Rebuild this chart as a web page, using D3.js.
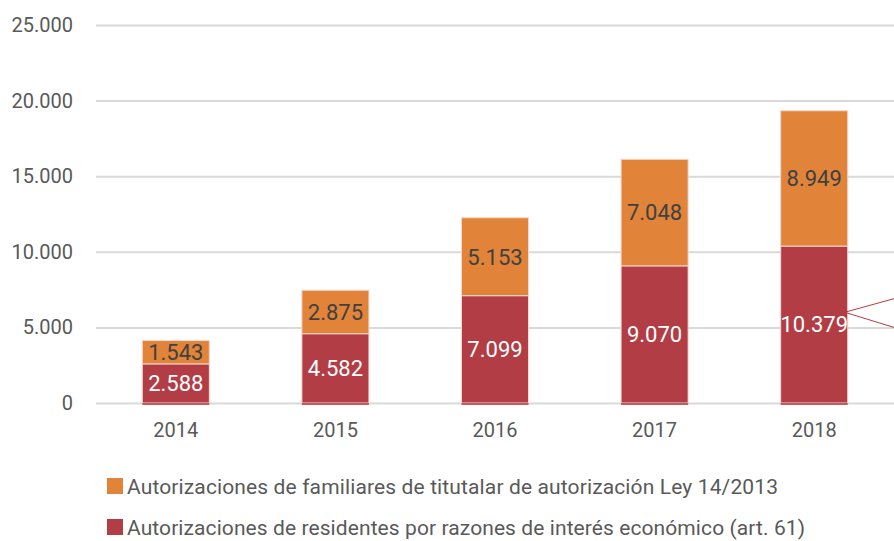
<!DOCTYPE html>
<html>
<head>
<meta charset="utf-8">
<script src="https://cdn.jsdelivr.net/npm/d3@7"></script>
<style>
  body { margin: 0; background: #fff; }
  text { font-family: Roboto, "Noto Sans", sans-serif; }
</style>
</head>
<body>
<script>
/*--- datos ---*/
let anios = ["2014", "2015", "2016", "2017", "2018"];
let residentes = [2588, 4582, 7099, 9070, 10379];   // art. 61
let familiares = [1543, 2875, 5153, 7048, 8949];    // Ley 14/2013
let ticksY = [0, 5000, 10000, 15000, 20000, 25000];
let leyenda = [
    "Autorizaciones de familiares de titutalar de autorización Ley 14/2013",
    "Autorizaciones de residentes por razones de interés económico (art. 61)"
];

/*--- variables ---*/
let width = 894;
let height = 541;
let colorRojo = "#b23d45";
let colorNaranja = "#e1843a";
let gris = "#595959";

let fmt = d3.format(",d");
let puntos = function(v) { return fmt(v).replace(/,/g, "."); };

let X = d3.scaleBand().domain(anios).range([96, 894]).paddingInner(0.58).paddingOuter(0.29);
let Y = d3.scaleLinear().domain([0, 25000]).range([403, 25]);

let svg = d3.select("body").append("svg")
    .attr("width", width)
    .attr("height", height);

// rejilla y eje y
let yEje = d3.axisLeft(Y).tickValues(ticksY).tickSize(-(894 - 96)).tickFormat(puntos);
let gy = svg.append("g")
    .attr("transform", "translate(96,0)")
    .call(yEje);
gy.select(".domain").remove();
gy.selectAll(".tick line").attr("stroke", "#d9d9d9").attr("stroke-width", 2);
gy.selectAll(".tick text")
    .attr("x", -23)
    .attr("fill", gris)
    .attr("font-size", 20);

// barras apiladas
let datos = anios.map(function(a, i) {
    return {anio: a, residentes: residentes[i], familiares: familiares[i]};
});
let pila = d3.stack().keys(["residentes", "familiares"])(datos);
let colores = {residentes: colorRojo, familiares: colorNaranja};

let capas = svg.append("g").selectAll("g")
    .data(pila)
    .join("g")
    .attr("fill", function(d) { return colores[d.key]; });

capas.selectAll("rect")
    .data(function(d) { return d; })
    .join("rect")
    .attr("x", function(d) { return X(d.data.anio); })
    .attr("width", X.bandwidth())
    .attr("y", function(d) { return Y(d[1]); })
    .attr("height", function(d) { return Y(d[0]) - Y(d[1]); })
    .attr("stroke", "#f4d6d0")
    .attr("stroke-width", 1);

// linea bajo cero
svg.append("g").selectAll("rect")
    .data(datos)
    .join("rect")
    .attr("x", function(d) { return X(d.anio); })
    .attr("width", X.bandwidth())
    .attr("y", Y(0))
    .attr("height", 2)
    .attr("fill", colorRojo)
    .attr("opacity", 0.8);

// etiquetas de valores
capas.each(function(serie) {
    d3.select(this).selectAll("text")
        .data(serie)
        .join("text")
        .attr("x", function(d) { return X(d.data.anio) + X.bandwidth() / 2; })
        .attr("y", function(d) { return (Y(d[0]) + Y(d[1])) / 2; })
        .attr("dy", "0.36em")
        .attr("text-anchor", "middle")
        .attr("font-size", 22)
        .attr("fill", serie.key == "residentes" ? "#ffffff" : "#404040")
        .text(function(d) { return puntos(d[1] - d[0]); });
});

// eje x
let xEje = d3.axisBottom(X).tickSize(0).tickPadding(20);
let gx = svg.append("g")
    .attr("transform", "translate(0," + Y(0) + ")")
    .call(xEje);
gx.select(".domain").remove();
gx.selectAll(".tick text").attr("fill", gris).attr("font-size", 20);

// lineas de anotacion hacia la derecha (2018)
let x0 = X("2018") + X.bandwidth() - 3;
let yA = Y(6000);
[Y(6900), Y(5000)].forEach(function(y1) {
    svg.append("line")
        .attr("x1", x0).attr("y1", yA)
        .attr("x2", 894).attr("y2", y1)
        .attr("stroke", colorRojo)
        .attr("stroke-width", 1);
});

// leyenda
let colLeyenda = [colorNaranja, colorRojo];
let largoLeyenda = [651, 678];
let gl = svg.append("g").selectAll("g")
    .data(leyenda)
    .join("g")
    .attr("transform", function(d, i) { return "translate(107," + (486 + i * 41) + ")"; });
gl.append("rect")
    .attr("x", 0).attr("y", -8)
    .attr("width", 16).attr("height", 16)
    .attr("fill", function(d, i) { return colLeyenda[i]; });
gl.append("text")
    .attr("x", 20)
    .attr("dy", "0.36em")
    .attr("font-size", 21)
    .attr("fill", gris)
    .attr("textLength", function(d, i) { return largoLeyenda[i]; })
    .attr("lengthAdjust", "spacing")
    .text(function(d) { return d; });
</script>
</body>
</html>
